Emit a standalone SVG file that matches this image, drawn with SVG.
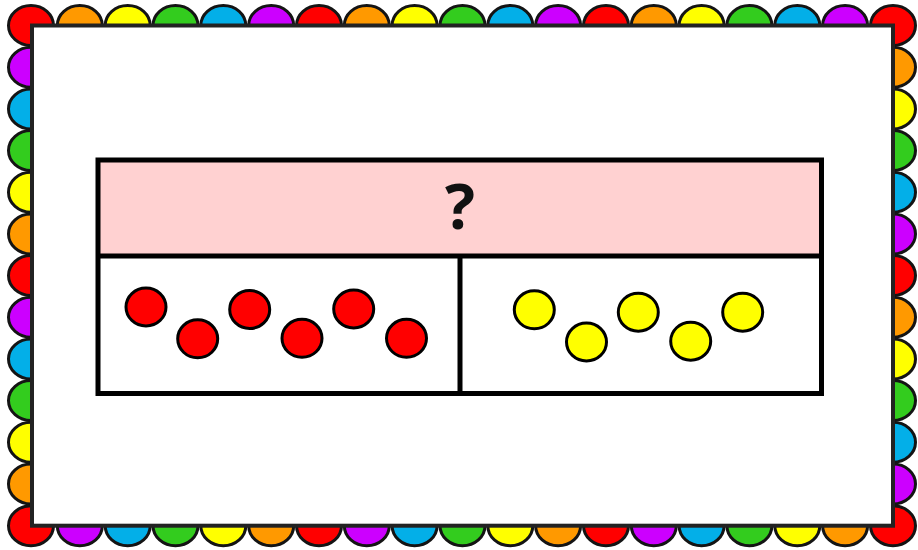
<svg xmlns="http://www.w3.org/2000/svg" width="918" height="550" viewBox="0 0 918 550">
<style>
.b{stroke:#141414;stroke-width:3}
.r{fill:#FF0000}.o{fill:#FF9900}.y{fill:#FFFF00}.g{fill:#33CC1E}.c{fill:#03AFE8}.p{fill:#CC00FF}
.dot{stroke:#000;stroke-width:3}
.box{fill:none;stroke:#000;stroke-width:5}
</style>
<defs>
<ellipse id="s" rx="22.5" ry="20"/>
</defs>
<g id="border">
<g class="b">
<!-- top row -->
<use href="#s" x="79.8" y="25.5" class="o"/>
<use href="#s" x="127.7" y="25.5" class="y"/>
<use href="#s" x="175.5" y="25.5" class="g"/>
<use href="#s" x="223.3" y="25.5" class="c"/>
<use href="#s" x="271.2" y="25.5" class="p"/>
<use href="#s" x="319" y="25.5" class="r"/>
<use href="#s" x="366.8" y="25.5" class="o"/>
<use href="#s" x="414.6" y="25.5" class="y"/>
<use href="#s" x="462.5" y="25.5" class="g"/>
<use href="#s" x="510.3" y="25.5" class="c"/>
<use href="#s" x="558.1" y="25.5" class="p"/>
<use href="#s" x="606" y="25.5" class="r"/>
<use href="#s" x="653.8" y="25.5" class="o"/>
<use href="#s" x="701.6" y="25.5" class="y"/>
<use href="#s" x="749.4" y="25.5" class="g"/>
<use href="#s" x="797.3" y="25.5" class="c"/>
<use href="#s" x="845.1" y="25.5" class="p"/>
<!-- bottom row -->
<use href="#s" x="79.8" y="525.7" class="p"/>
<use href="#s" x="127.7" y="525.7" class="c"/>
<use href="#s" x="175.5" y="525.7" class="g"/>
<use href="#s" x="223.3" y="525.7" class="y"/>
<use href="#s" x="271.2" y="525.7" class="o"/>
<use href="#s" x="319" y="525.7" class="r"/>
<use href="#s" x="366.8" y="525.7" class="p"/>
<use href="#s" x="414.6" y="525.7" class="c"/>
<use href="#s" x="462.5" y="525.7" class="g"/>
<use href="#s" x="510.3" y="525.7" class="y"/>
<use href="#s" x="558.1" y="525.7" class="o"/>
<use href="#s" x="606" y="525.7" class="r"/>
<use href="#s" x="653.8" y="525.7" class="p"/>
<use href="#s" x="701.6" y="525.7" class="c"/>
<use href="#s" x="749.4" y="525.7" class="g"/>
<use href="#s" x="797.3" y="525.7" class="y"/>
<use href="#s" x="845.1" y="525.7" class="o"/>
<!-- left column -->
<use href="#s" x="31" y="67.2" class="p"/>
<use href="#s" x="31" y="108.9" class="c"/>
<use href="#s" x="31" y="150.5" class="g"/>
<use href="#s" x="31" y="192.2" class="y"/>
<use href="#s" x="31" y="233.9" class="o"/>
<use href="#s" x="31" y="275.6" class="r"/>
<use href="#s" x="31" y="317.3" class="p"/>
<use href="#s" x="31" y="358.9" class="c"/>
<use href="#s" x="31" y="400.6" class="g"/>
<use href="#s" x="31" y="442.3" class="y"/>
<use href="#s" x="31" y="484" class="o"/>
<!-- right column -->
<use href="#s" x="893" y="67.2" class="o"/>
<use href="#s" x="893" y="108.9" class="y"/>
<use href="#s" x="893" y="150.5" class="g"/>
<use href="#s" x="893" y="192.2" class="c"/>
<use href="#s" x="893" y="233.9" class="p"/>
<use href="#s" x="893" y="275.6" class="r"/>
<use href="#s" x="893" y="317.3" class="o"/>
<use href="#s" x="893" y="358.9" class="y"/>
<use href="#s" x="893" y="400.6" class="g"/>
<use href="#s" x="893" y="442.3" class="c"/>
<use href="#s" x="893" y="484" class="p"/>
<!-- corners -->
<use href="#s" x="31" y="25.5" class="r"/>
<use href="#s" x="893" y="25.5" class="r"/>
<use href="#s" x="31" y="525.7" class="r"/>
<use href="#s" x="893" y="525.7" class="r"/>
</g>
<rect x="32" y="25.5" width="861" height="500.2" fill="#fff" stroke="#222" stroke-width="4"/>
</g>
<g id="whole">
<rect x="98" y="160" width="723.5" height="96" fill="#FFD1D1"/>
<text x="460" y="229" text-anchor="middle" font-family="'Open Sans', 'Noto Sans', sans-serif" font-weight="bold" font-size="63" fill="#111">?</text>
</g>
<g id="part-red">
<g class="r dot">
<ellipse cx="146" cy="307" rx="20" ry="19"/>
<ellipse cx="197.7" cy="338.8" rx="20" ry="19"/>
<ellipse cx="249.7" cy="309.5" rx="20" ry="19"/>
<ellipse cx="302" cy="338.3" rx="20" ry="19"/>
<ellipse cx="353.7" cy="309" rx="20" ry="19"/>
<ellipse cx="406.5" cy="338.3" rx="20" ry="19"/>
</g>
</g>
<g id="part-yellow">
<g class="y dot">
<ellipse cx="534.3" cy="309.8" rx="20" ry="19"/>
<ellipse cx="586.5" cy="342" rx="20" ry="19"/>
<ellipse cx="638.3" cy="312.2" rx="20" ry="19"/>
<ellipse cx="690.7" cy="341.2" rx="20" ry="19"/>
<ellipse cx="742.7" cy="312.2" rx="20" ry="19"/>
</g>
</g>
<g id="frame">
<rect class="box" x="98" y="160" width="723.5" height="233.5"/>
<line class="box" x1="98" y1="256" x2="821.5" y2="256"/>
<line class="box" x1="460" y1="256" x2="460" y2="393.5"/>
</g>
</svg>
